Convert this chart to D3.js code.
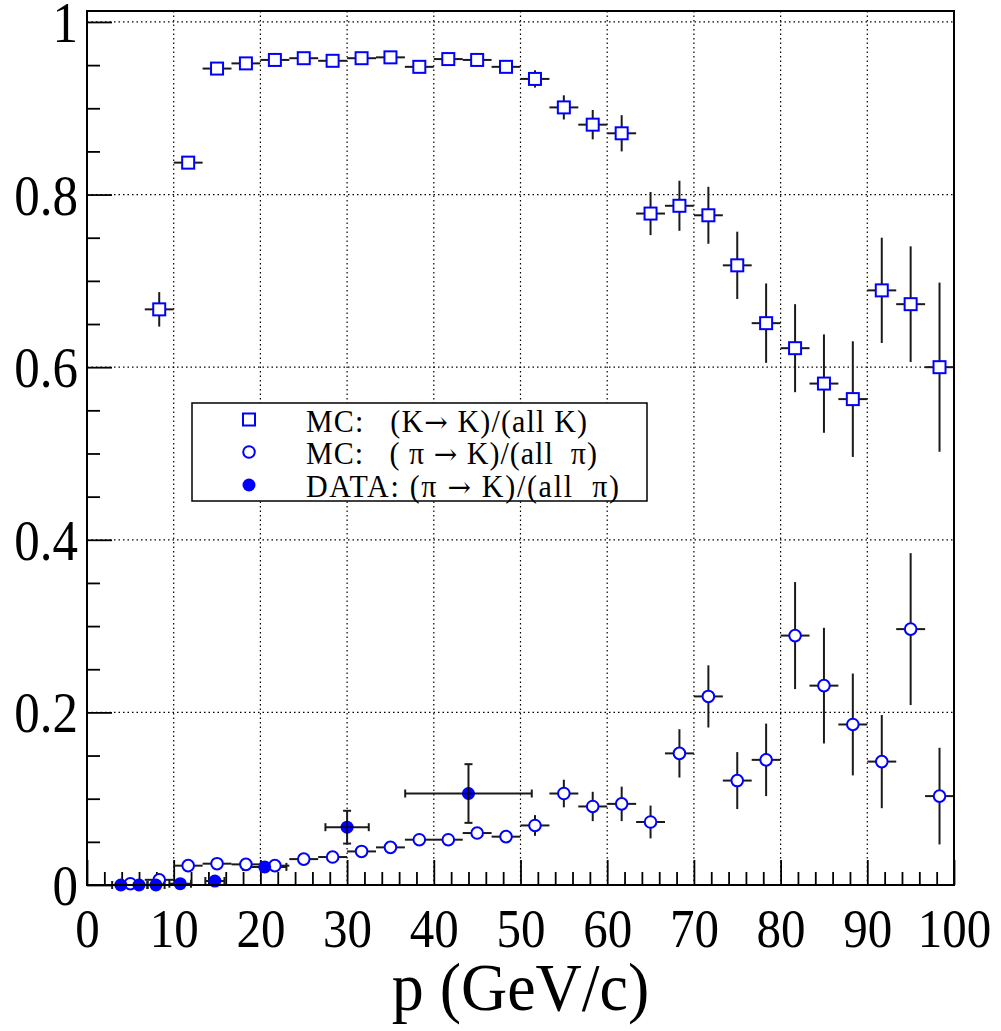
<!DOCTYPE html>
<html>
<head>
<meta charset="utf-8">
<script src="https://cdn.jsdelivr.net/npm/d3@7"></script>
<style>
  body { margin: 0; background: #fff; }
  text { font-family: "Liberation Serif", "DejaVu Serif", serif; fill: #000; }
</style>
</head>
<body>
<div id="chart"></div>
<script>
// ---------------------------------------------------------------------------
// Data
// ---------------------------------------------------------------------------
// MC: (K -> K)/(all K), 3.33 GeV bins
const kP    = [8.33, 11.67, 15, 18.33, 21.67, 25, 28.33, 31.67, 35, 38.33, 41.67, 45, 48.33,
               51.67, 55, 58.33, 61.67, 65, 68.33, 71.67, 75, 78.33, 81.67, 85, 88.33, 91.67, 95, 98.33];
const kEff  = [0.667, 0.837, 0.946, 0.952, 0.956, 0.958, 0.955, 0.958, 0.959, 0.948, 0.957, 0.956, 0.948,
               0.934, 0.901, 0.881, 0.871, 0.778, 0.787, 0.776, 0.718, 0.651, 0.622, 0.581, 0.563, 0.689, 0.673, 0.600];
const kErr  = [0.020, 0.005, 0.004, 0.004, 0.004, 0.004, 0.004, 0.004, 0.004, 0.005, 0.005, 0.005, 0.006,
               0.010, 0.014, 0.017, 0.021, 0.025, 0.029, 0.033, 0.039, 0.046, 0.051, 0.057, 0.067, 0.061, 0.067, 0.098];

// MC: (pi -> K)/(all pi)
const piP   = [5, 8.33, 11.67, 15, 18.33, 21.67, 25, 28.33, 31.67, 35, 38.33, 41.67, 45, 48.33,
               51.67, 55, 58.33, 61.67, 65, 68.33, 71.67, 75, 78.33, 81.67, 85, 88.33, 91.67, 95, 98.33];
const piEff = [0.0015, 0.006, 0.0224, 0.0247, 0.0239, 0.0224, 0.030, 0.0324, 0.0389, 0.0436, 0.0525, 0.0525, 0.0602, 0.056,
               0.069, 0.106, 0.091, 0.094, 0.073, 0.1525, 0.2185, 0.121, 0.145, 0.289, 0.231, 0.186, 0.143, 0.2965, 0.103];
const piErr = [0.001, 0.002, 0.003, 0.003, 0.003, 0.003, 0.004, 0.004, 0.004, 0.005, 0.005, 0.005, 0.006, 0.006,
               0.012, 0.016, 0.017, 0.020, 0.019, 0.028, 0.036, 0.033, 0.042, 0.062, 0.067, 0.059, 0.054, 0.088, 0.056];
const binHalf = 1.667;

// DATA: (pi -> K)/(all pi), variable bins
const dataP    = [3.9, 6.0, 7.95, 10.75, 14.75, 20.5, 30.0, 44.0];
const dataPErr = [1.0, 1.0, 1.0, 1.25, 1.1, 2.5, 2.5, 7.3];
const dataEff  = [0, 0, 0, 0.0015, 0.0046, 0.021, 0.067, 0.106];
const dataErr  = [0.001, 0.001, 0.001, 0.002, 0.003, 0.004, 0.019, 0.034];

const xMajor = [0, 10, 20, 30, 40, 50, 60, 70, 80, 90, 100];
const yMajor = [0, 0.2, 0.4, 0.6, 0.8, 1];

// legend rows: pieces of text, arrows drawn a bit wider
const legendLabels = [
  ['MC:   (K', '\u2192', ' K)/(all K)'],
  ['MC:   ( \u03c0 ', '\u2192', ' K)/(all  \u03c0)'],
  ['DATA: (\u03c0 ', '\u2192', ' K)/(all  \u03c0)']
];

// ---------------------------------------------------------------------------
// Setup
// ---------------------------------------------------------------------------
const W = 1001, H = 1031;
const frame = { left: 87, right: 954, top: 11, bottom: 885 };
const stretch = 1.12;     // glyphs in the reference are a bit taller than wide
const blue = '#0000ff';

const svg = d3.select('#chart').append('svg')
  .attr('width', W).attr('height', H);

const x = d3.scaleLinear().domain([0, 100]).range([frame.left, frame.right]);
const y = d3.scaleLinear().domain([0, 1.0127]).range([frame.bottom, frame.top]);

// grid (dotted)
const grid = svg.append('g').attr('stroke', '#000').attr('stroke-width', 1.2)
  .attr('stroke-dasharray', '1.5,3');
grid.selectAll('.gx').data(xMajor.filter(v => v > 0 && v < 100)).enter().append('line')
  .attr('x1', d => x(d)).attr('x2', d => x(d))
  .attr('y1', frame.top).attr('y2', frame.bottom);
grid.selectAll('.gy').data(yMajor.filter(v => v > 0)).enter().append('line')
  .attr('y1', d => y(d)).attr('y2', d => y(d))
  .attr('x1', frame.left).attr('x2', frame.right);

// ---------------------------------------------------------------------------
// Axes
// ---------------------------------------------------------------------------
const xMinor = d3.range(0, 100.1, 2).filter(v => v % 10 !== 0);
const yMinor = d3.range(0, 1.0, 0.05).filter(v => Math.round(v * 100) % 20 !== 0);

const axStyle = g => {
  g.select('.domain').remove();
  g.selectAll('line').attr('stroke', '#000').attr('stroke-width', 1.8);
};

svg.append('g').attr('transform', `translate(0,${frame.bottom})`)
  .call(d3.axisBottom(x).tickValues(xMinor).tickSize(-13).tickFormat(''))
  .call(axStyle);
svg.append('g').attr('transform', `translate(${frame.left},0)`)
  .call(d3.axisLeft(y).tickValues(yMinor).tickSize(-13).tickFormat(''))
  .call(axStyle);

const xAxis = svg.append('g').attr('transform', `translate(0,${frame.bottom})`)
  .call(d3.axisBottom(x).tickValues(xMajor).tickSize(-25).tickFormat(d3.format('d')))
  .call(axStyle);
xAxis.selectAll('text')
  .attr('dy', null)
  .attr('y', 62 / stretch)
  .attr('transform', `scale(1,${stretch})`)
  .style('font-size', '49px')
  .style('font-family', '"Liberation Serif", serif');

const yAxis = svg.append('g').attr('transform', `translate(${frame.left},0)`)
  .call(d3.axisLeft(y).tickValues(yMajor).tickSize(-25).tickFormat(d => d === 0 || d === 1 ? d3.format('d')(d) : d3.format('.1f')(d)))
  .call(axStyle);
yAxis.selectAll('text')
  .attr('x', -9)
  .attr('dy', '0.34em')
  .attr('transform', `scale(1,${stretch})`)
  .style('font-size', '51px')
  .style('font-family', '"Liberation Serif", serif');

// axis title
svg.append('text')
  .attr('transform', `translate(${(frame.left + frame.right) / 2},1010) scale(1,1.06)`)
  .attr('text-anchor', 'middle')
  .style('font-size', '64px')
  .text('p (GeV/c)');

// ---------------------------------------------------------------------------
// Error bars and markers
// ---------------------------------------------------------------------------
const errG = svg.append('g').attr('stroke', '#1a1a1a').attr('stroke-width', 2);

function drawMC(ps, vals, errs) {
  ps.forEach((p, i) => {
    errG.append('line')
      .attr('x1', x(p - binHalf)).attr('x2', x(p + binHalf))
      .attr('y1', y(vals[i])).attr('y2', y(vals[i]));
    errG.append('line')
      .attr('x1', x(p)).attr('x2', x(p))
      .attr('y1', y(vals[i] - errs[i])).attr('y2', y(vals[i] + errs[i]));
  });
}
drawMC(kP, kEff, kErr);
drawMC(piP, piEff, piErr);

// data error bars with end caps
const cap = 4;
dataP.forEach((p, i) => {
  const cx = x(p), cy = y(dataEff[i]);
  const x0 = x(p - dataPErr[i]), x1 = x(p + dataPErr[i]);
  const y0 = y(dataEff[i] - dataErr[i]), y1 = y(dataEff[i] + dataErr[i]);
  errG.append('line').attr('x1', x0).attr('x2', x1).attr('y1', cy).attr('y2', cy);
  errG.append('line').attr('x1', cx).attr('x2', cx).attr('y1', y0).attr('y2', y1);
  [x0, x1].forEach(xx => errG.append('line').attr('x1', xx).attr('x2', xx).attr('y1', cy - cap).attr('y2', cy + cap));
  [y0, y1].forEach(yy => errG.append('line').attr('y1', yy).attr('y2', yy).attr('x1', cx - cap).attr('x2', cx + cap));
});

// markers
const sq = 12;
svg.append('g').selectAll('rect').data(kP).enter().append('rect')
  .attr('x', d => x(d) - sq / 2)
  .attr('y', (d, i) => y(kEff[i]) - sq / 2)
  .attr('width', sq).attr('height', sq)
  .attr('fill', '#fff').attr('stroke', blue).attr('stroke-width', 2);

svg.append('g').selectAll('circle').data(piP).enter().append('circle')
  .attr('cx', d => x(d))
  .attr('cy', (d, i) => y(piEff[i]))
  .attr('r', 5.8)
  .attr('fill', '#fff').attr('stroke', blue).attr('stroke-width', 2);

svg.append('g').selectAll('circle').data(dataP).enter().append('circle')
  .attr('cx', d => x(d))
  .attr('cy', (d, i) => y(dataEff[i]))
  .attr('r', 6.5)
  .attr('fill', blue);

// the larger data error bars show as a dark cross through the marker
dataP.forEach((p, i) => {
  if (dataErr[i] > 0.01) {
    svg.append('line').attr('stroke', '#000').attr('stroke-width', 1.5)
      .attr('x1', x(p) - 6.5).attr('x2', x(p) + 6.5)
      .attr('y1', y(dataEff[i])).attr('y2', y(dataEff[i]));
    svg.append('line').attr('stroke', '#000').attr('stroke-width', 1.5)
      .attr('x1', x(p)).attr('x2', x(p))
      .attr('y1', y(dataEff[i]) - 6.5).attr('y2', y(dataEff[i]) + 6.5);
  }
});

// frame
svg.append('rect')
  .attr('x', frame.left).attr('y', frame.top)
  .attr('width', frame.right - frame.left).attr('height', frame.bottom - frame.top)
  .attr('fill', 'none').attr('stroke', '#000').attr('stroke-width', 2);

// ---------------------------------------------------------------------------
// Legend
// ---------------------------------------------------------------------------
const legend = svg.append('g');
legend.append('rect')
  .attr('x', 192).attr('y', 403).attr('width', 455).attr('height', 98)
  .attr('fill', '#fff').attr('stroke', '#000').attr('stroke-width', 1.5);

const rowY = [419.5, 452, 485];
const rowWidth = [281, 291, 313];   // widths of the text rows in the reference
legend.append('rect').attr('x', 249 - 6).attr('y', rowY[0] - 6).attr('width', 12).attr('height', 12)
  .attr('fill', '#fff').attr('stroke', blue).attr('stroke-width', 2);
legend.append('circle').attr('cx', 249).attr('cy', rowY[1]).attr('r', 5.8)
  .attr('fill', '#fff').attr('stroke', blue).attr('stroke-width', 2);
legend.append('circle').attr('cx', 249).attr('cy', rowY[2]).attr('r', 6.5).attr('fill', blue);

legendLabels.forEach((parts, i) => {
  const t = legend.append('text')
    .attr('transform', `translate(306,${rowY[i] + 12}) scale(1,1.04)`)
    .attr('textLength', rowWidth[i])
    .attr('lengthAdjust', 'spacing')
    .style('font-size', '30px')
    .style('white-space', 'pre');
  t.append('tspan').text(parts[0]);
  t.append('tspan').style('font-family', '"DejaVu Serif", serif').style('font-size', '28px').text(parts[1]);
  t.append('tspan').text(parts[2]);
});
</script>
</body>
</html>
